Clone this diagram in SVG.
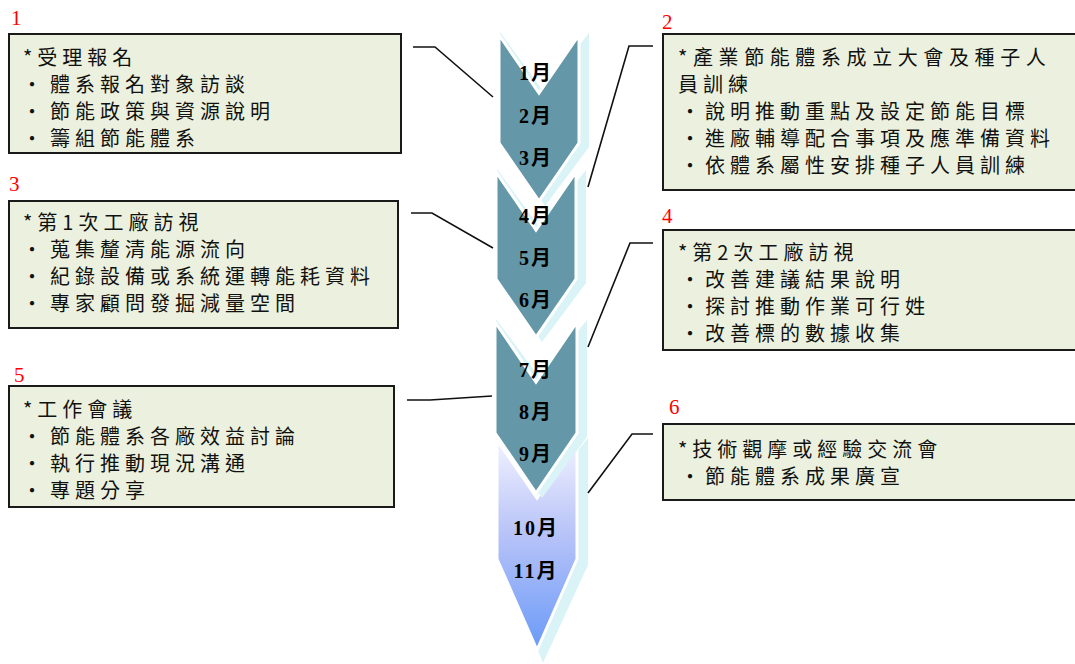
<svg xmlns="http://www.w3.org/2000/svg" width="1075" height="664" viewBox="0 0 1075 664">
<style>
.box{fill:#ebf1de;stroke:#1a1a1a;stroke-width:2}
.t{font-family:"Noto Sans CJK TC","Noto Sans CJK SC",sans-serif;font-size:20px;letter-spacing:5px;fill:#111}
.num{font-family:"Liberation Serif",serif;font-size:21px;fill:#ff0000}
.mon{font-family:"Liberation Serif","Noto Sans CJK TC",serif;font-size:20px;font-weight:bold;fill:#000;text-anchor:middle;letter-spacing:2px}
.chev{fill:#6497a8;stroke:#ffffff;stroke-width:3;stroke-linejoin:miter}
.sh{fill:#d9f3f7}
.con{fill:none;stroke:#111;stroke-width:1.6}
</style>
<defs>
<linearGradient id="g4" x1="0" y1="440" x2="0" y2="650" gradientUnits="userSpaceOnUse">
<stop offset="0" stop-color="#f2f2ff"/>
<stop offset="0.45" stop-color="#b7c3f8"/>
<stop offset="1" stop-color="#6a9af8"/>
</linearGradient>
</defs>
<g id="timeline">
<polygon class="sh" points="498,437 541,496 588,438 588,565 543,663 503,563"/>
<polygon class="chev" style="fill:url(#g4)" points="497,440 537,498 577,440 577,559 537,650 497,559"/>
<polygon class="sh" points="496,319 540,378 587,320 587,437 542,498 501,437"/>
<polygon class="chev" points="495,322 536,382 577,322 577,433 536,493 495,433"/>
<polygon class="sh" points="497,169 540,228 586,170 586,283 542,342 502,283"/>
<polygon class="chev" points="496,172 536,230 576,172 576,279 536,337 496,279"/>
<polygon class="sh" points="500,32 543,91 589,33 589,147 545,206 505,147"/>
<polygon class="chev" points="499,35 539,93 579,35 579,143 539,201 499,143"/>
<text class="mon" x="536" y="80">1月</text>
<text class="mon" x="536" y="123">2月</text>
<text class="mon" x="536" y="165">3月</text>
<text class="mon" x="536" y="223">4月</text>
<text class="mon" x="536" y="265">5月</text>
<text class="mon" x="536" y="307">6月</text>
<text class="mon" x="536" y="377">7月</text>
<text class="mon" x="536" y="419">8月</text>
<text class="mon" x="536" y="461">9月</text>
<text class="mon" x="536" y="535">10月</text>
<text class="mon" x="536" y="578">11月</text>
</g>
<g id="connectors">
<polyline class="con" points="413,47 435,47 493,97"/>
<polyline class="con" points="588,187 629,46 653,46"/>
<polyline class="con" points="411,213 432,213 493,248"/>
<polyline class="con" points="588,347 630,243 653,243"/>
<polyline class="con" points="407,400 430,400 492,396"/>
<polyline class="con" points="588,493 632,434 653,434"/>
</g>
<g id="node1">
<text class="num" x="11" y="25">1</text>
<rect class="box" x="9" y="34" width="392" height="119"/>
<text class="t" x="23" y="65">*受理報名</text>
<text class="t" x="22" y="92">·<tspan dx="3">體系報名對象訪談</tspan></text>
<text class="t" x="22" y="119">·<tspan dx="3">節能政策與資源說明</tspan></text>
<text class="t" x="22" y="146">·<tspan dx="3">籌組節能體系</tspan></text>
</g>
<g id="node2">
<text class="num" x="662" y="29">2</text>
<rect class="box" x="663" y="34" width="420" height="156"/>
<text class="t" x="678" y="65" style="letter-spacing:5.6px">*產業節能體系成立大會及種子人</text>
<text class="t" x="678" y="92">員訓練</text>
<text class="t" x="680" y="119">·說明推動重點及設定節能目標</text>
<text class="t" x="680" y="146">·進廠輔導配合事項及應準備資料</text>
<text class="t" x="680" y="173">·依體系屬性安排種子人員訓練</text>
</g>
<g id="node3">
<text class="num" x="9" y="191">3</text>
<rect class="box" x="9" y="201" width="389" height="127"/>
<text class="t" x="23" y="230">*第1次工廠訪視</text>
<text class="t" x="22" y="257">·<tspan dx="3">蒐集釐清能源流向</tspan></text>
<text class="t" x="22" y="284">·<tspan dx="3">紀錄設備或系統運轉能耗資料</tspan></text>
<text class="t" x="22" y="311">·<tspan dx="3">專家顧問發掘減量空間</tspan></text>
</g>
<g id="node4">
<text class="num" x="662" y="223">4</text>
<rect class="box" x="663" y="230" width="420" height="120"/>
<text class="t" x="678" y="260">*第2次工廠訪視</text>
<text class="t" x="680" y="287">·改善建議結果說明</text>
<text class="t" x="680" y="314">·探討推動作業可行姓</text>
<text class="t" x="680" y="341">·改善標的數據收集</text>
</g>
<g id="node5">
<text class="num" x="14" y="382">5</text>
<rect class="box" x="9" y="386" width="385" height="121"/>
<text class="t" x="23" y="417">*工作會議</text>
<text class="t" x="22" y="444">·<tspan dx="3">節能體系各廠效益討論</tspan></text>
<text class="t" x="22" y="471">·<tspan dx="3">執行推動現況溝通</tspan></text>
<text class="t" x="22" y="498">·<tspan dx="3">專題分享</tspan></text>
</g>
<g id="node6">
<text class="num" x="669" y="414">6</text>
<rect class="box" x="663" y="424" width="420" height="76"/>
<text class="t" x="678" y="457">*技術觀摩或經驗交流會</text>
<text class="t" x="680" y="484">·節能體系成果廣宣</text>
</g>
</svg>
